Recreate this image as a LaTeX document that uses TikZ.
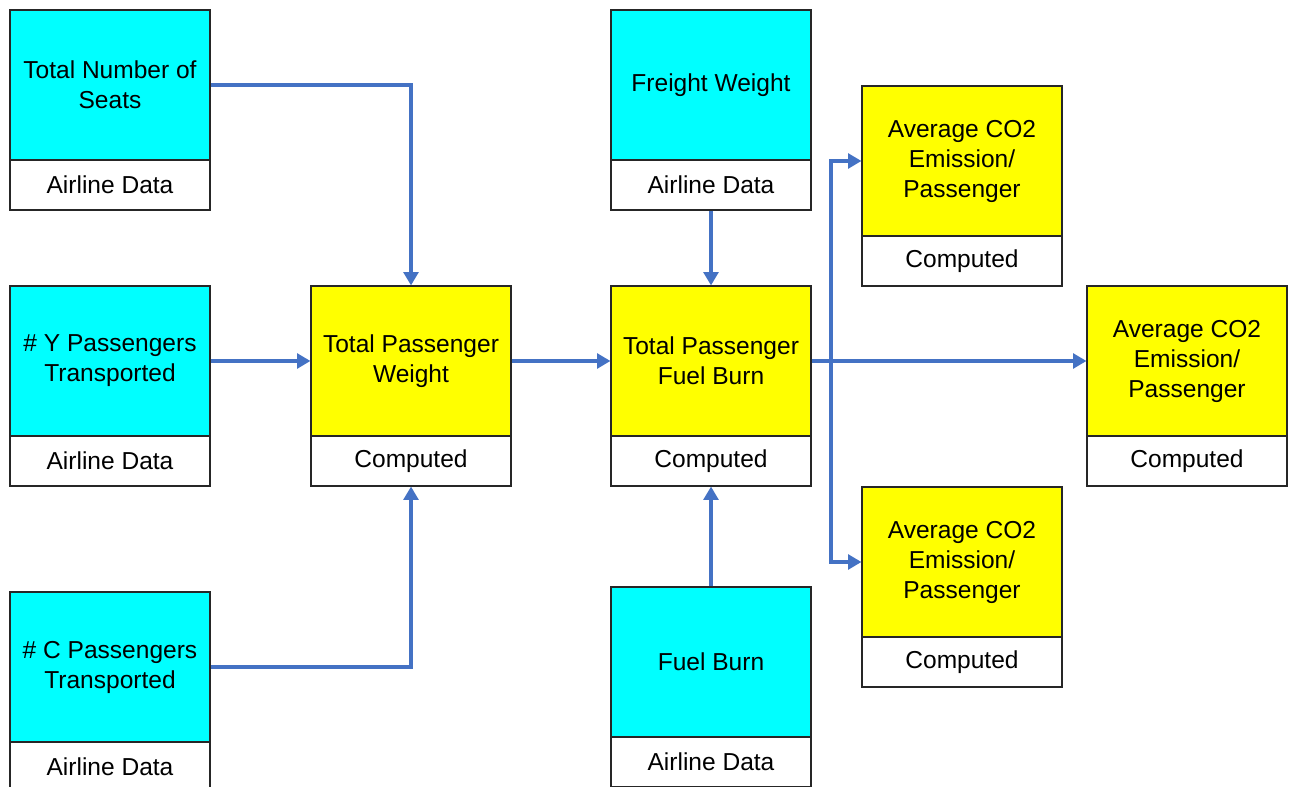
\documentclass[tikz,border=0pt]{standalone}
\usepackage{fontspec}
\setmainfont{Liberation Sans}
\usetikzlibrary{arrows.meta}
\definecolor{flowblue}{RGB}{68,114,196}
\definecolor{datacyan}{RGB}{0,255,255}
\definecolor{calcyellow}{RGB}{255,255,0}
\tikzset{
  card/.style={draw=black!85, line width=0.8pt, minimum width=150pt, align=center, inner sep=0pt,
    font=\fontsize{18.4}{22.5}\selectfont},
  datum/.style={card, fill=datacyan, minimum height=112.5pt},
  calc/.style={card, fill=calcyellow, minimum height=112.5pt},
  tag/.style={card, fill=white, minimum height=37.5pt},
  flow/.style={draw=flowblue, line width=2.6pt, -{Triangle[length=10pt, width=11pt]}}
}
\begin{document}
\begin{tikzpicture}[x=0.75pt, y=-0.75pt]
        \clip (0,0) rectangle (1293,787);
        \fill[white] (0,0) rectangle (1293,787);
        % inputs from the airline
        \node[datum] (seats) at (110,85) {Total Number of\\Seats};
        \node[tag] (seatsd) at (110,185) {Airline Data};
        \node[datum] (ypax) at (110,361) {\# Y Passengers\\Transported};
        \node[tag] (ypaxd) at (110,461) {Airline Data};
        \node[datum] (cpax) at (110,667) {\# C Passengers\\Transported};
        \node[tag] (cpaxd) at (110,767) {Airline Data};
        \node[datum] (freight) at (711,85) {Freight Weight};
        \node[tag] (freightd) at (711,185) {Airline Data};
        \node[datum] (fuel) at (711,662) {Fuel Burn};
        \node[tag] (fueld) at (711,762) {Airline Data};
        % computed values
        \node[calc] (weight) at (411,361) {Total Passenger\\Weight};
        \node[tag] (weightc) at (411,461) {Computed};
        \node[calc] (burn) at (711,361) {Total Passenger\\Fuel Burn};
        \node[tag] (burnc) at (711,461) {Computed};
        \node[calc] (co2a) at (962,161) {Average CO2\\Emission/\\Passenger};
        \node[tag] (co2ac) at (962,261) {Computed};
        \node[calc] (co2b) at (1187,361) {Average CO2\\Emission/\\Passenger};
        \node[tag] (co2bc) at (1187,461) {Computed};
        \node[calc] (co2c) at (962,562) {Average CO2\\Emission/\\Passenger};
        \node[tag] (co2cc) at (962,662) {Computed};
        % connectors
        \coordinate (split) at (831,361);
        \draw[flow] (seats.east) -| (weight.north);
        \draw[flow] (ypax.east) -- (weight.west);
        \draw[flow] (cpax.east) -| (weightc.south);
        \draw[flow] (weight.east) -- (burn.west);
        \draw[flow] (freightd.south) -- (burn.north);
        \draw[flow] (fuel.north) -- (burnc.south);
        \draw[flow] (burn.east) -- (co2b.west);
        \draw[flow] (split) |- (co2a.west);
        \draw[flow] (split) |- (co2c.west);
    \end{tikzpicture}
\end{document}
